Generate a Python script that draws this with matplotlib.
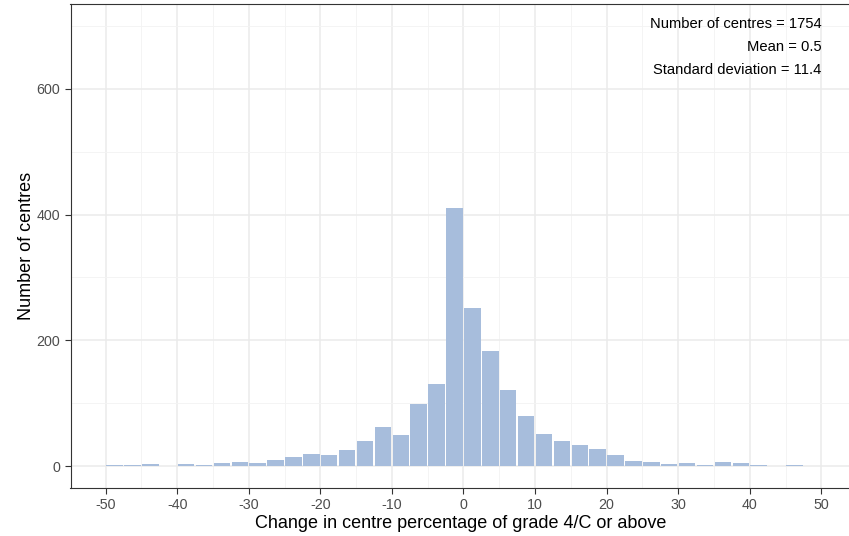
import matplotlib
matplotlib.use("Agg")
import matplotlib.pyplot as plt
import numpy as np

plt.rcParams['font.family'] = ['Liberation Sans', 'DejaVu Sans']

bin_edges = np.arange(-50, 50.01, 2.5)
counts = [2, 1, 3, 0, 3, 2, 4, 6, 4, 10, 14, 19, 18, 26, 40, 62, 49, 99, 130,
          411, 252, 183, 121, 80, 51, 40, 33, 27, 17, 8, 6, 3, 4, 2, 6, 4, 2, 0, 2]
x_ticks = list(range(-50, 51, 10))
y_ticks = [0, 200, 400, 600]
stats_lines = ["Number of centres = 1754", "Mean = 0.5", "Standard deviation = 11.4"]

W, H = 849, 536
fig = plt.figure(figsize=(W / 100, H / 100), dpi=100)
ax = fig.add_axes([70.5 / W, 1 - 488 / H, (849 - 70.5) / W + 0.002, (488 - 4) / H])

bin_w = 2.5
gap = 0.2
left_edges = bin_edges[:len(counts)]
ax.bar(left_edges + gap / 2, counts, width=bin_w - gap, align='edge', color='#A7BDDC',
       edgecolor='none', linewidth=0, zorder=3)

ax.set_xlim(-54.9, 54.1)
ax.set_ylim(-35, 735)
ax.set_xticks(x_ticks)
ax.set_xticklabels([str(t) for t in x_ticks])
ax.set_yticks(y_ticks)
ax.set_xticks(np.arange(-45, 50, 10), minor=True)
ax.set_yticks([100, 300, 500, 700], minor=True)

ax.grid(which='major', color='#EBEBEB', linewidth=1.1, zorder=0)
ax.grid(which='minor', color='#F3F3F3', linewidth=0.6, zorder=0)
ax.set_axisbelow(True)

for s in ax.spines.values():
    s.set_color('#333333')
    s.set_linewidth(0.8)
ax.spines['right'].set_visible(False)

ax.tick_params(which='major', length=4, width=0.8, color='#333333',
               labelcolor='#4D4D4D', labelsize=10.3)
ax.tick_params(which='minor', length=0)

ax.set_xlabel("Change in centre percentage of grade 4/C or above", fontsize=13,
              color='black', labelpad=2)
ax.set_ylabel("Number of centres", fontsize=13, color='black', labelpad=1)

for i, line in enumerate(stats_lines):
    ax.text(50, 703 - i * 36.5, line, ha='right', va='center', fontsize=10.6,
            color='black', zorder=5)

fig.savefig("out.png", dpi=100)
